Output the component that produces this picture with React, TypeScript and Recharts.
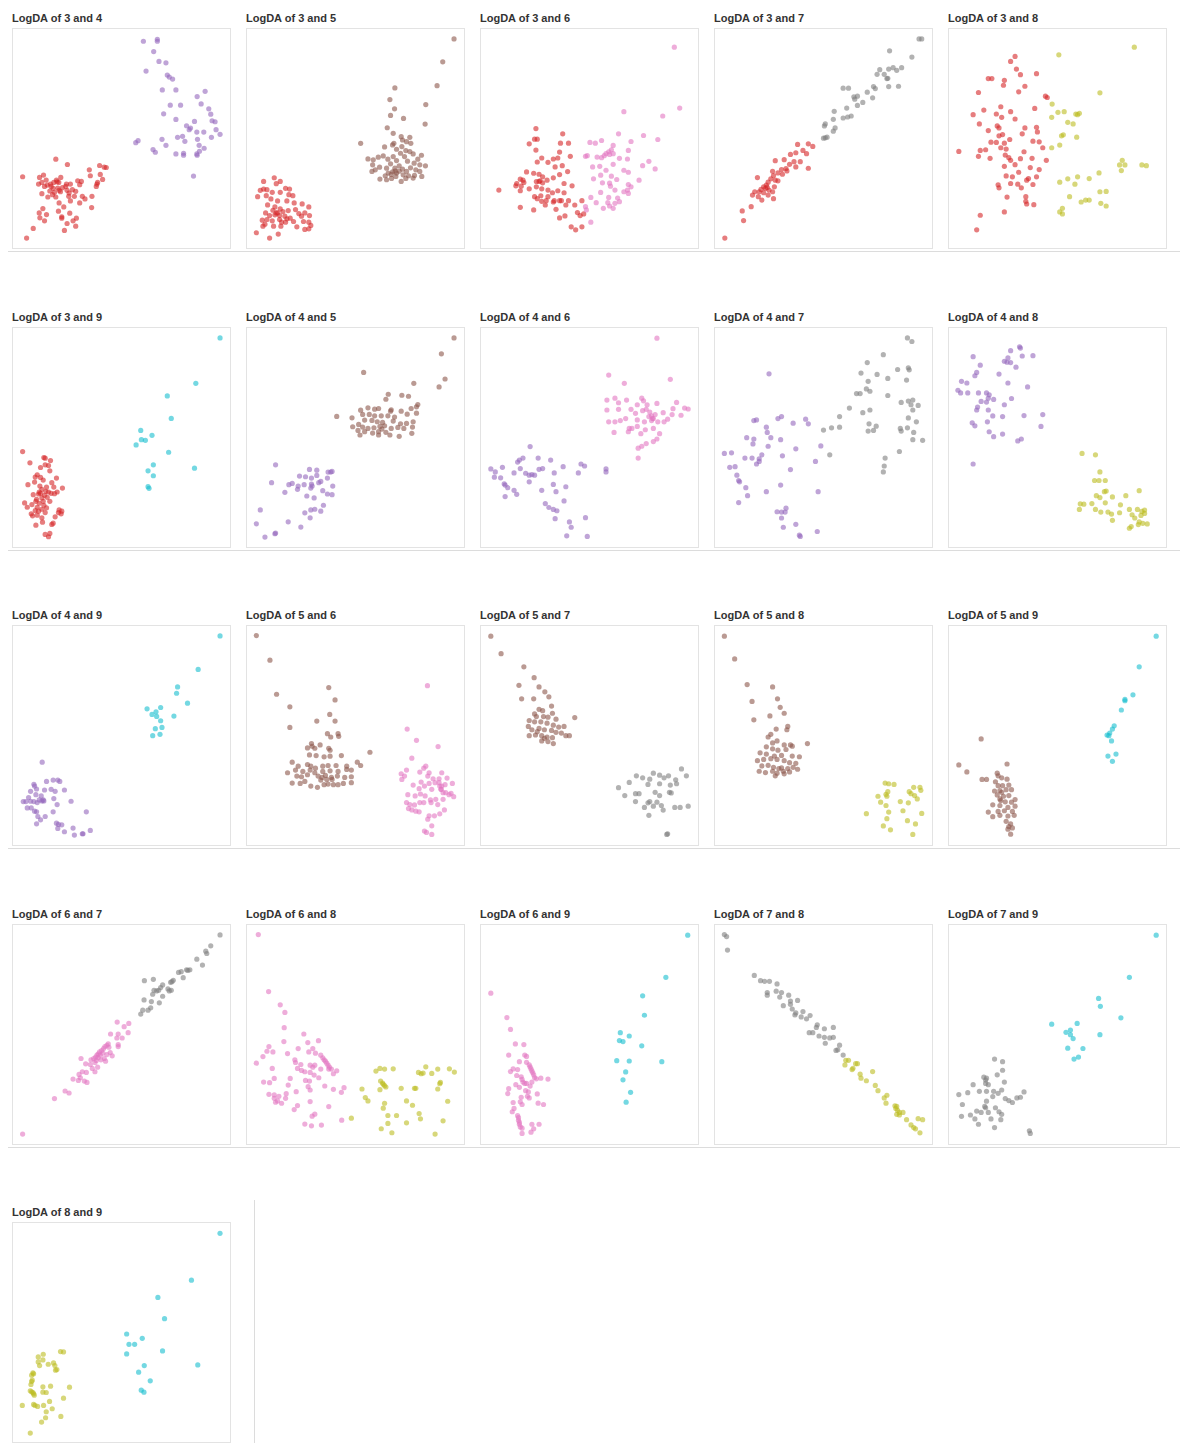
import { ScatterChart, Scatter, XAxis, YAxis } from 'recharts';

type Pt = [number, number];

const classColors: Record<number, string> = {
  3: '#d62728',
  4: '#9467bd',
  5: '#8c564b',
  6: '#e377c2',
  7: '#7f7f7f',
  8: '#bcbd22',
  9: '#17becf',
};

// values; each panel has its own axis range (y grows downward)
const p34_3: Pt[] = [[166,478],[201,494],[66,531],[298,497],[312,502],[318,503],[267,510],[300,524],[307,539],[270,528],[129,526],[117,533],[137,541],[168,541],[181,533],[114,553],[124,548],[150,553],[160,548],[175,548],[198,553],[210,553],[232,543],[243,545],[238,555],[290,553],[288,560],[292,548],[158,566],[172,565],[186,564],[148,574],[162,578],[180,576],[200,572],[216,570],[226,575],[124,582],[142,592],[166,592],[205,590],[222,590],[246,590],[254,598],[275,590],[176,610],[210,604],[238,610],[190,622],[127,627],[274,624],[116,640],[138,645],[174,635],[208,641],[184,652],[118,655],[132,664],[184,656],[218,664],[228,656],[200,672],[226,680],[192,693],[98,687],[78,716],[152,560],[140,556],[176,572],[196,560],[206,580],[156,585],[170,546],[132,560]];
const p34_4: Pt[] = [[430,122],[472,116],[472,122],[461,153],[477,183],[498,187],[438,212],[502,224],[508,230],[518,236],[487,269],[528,269],[616,273],[592,289],[511,315],[542,315],[604,311],[627,326],[633,342],[491,341],[528,358],[584,364],[637,362],[646,365],[560,377],[572,384],[568,389],[649,389],[661,403],[591,396],[612,396],[548,409],[533,412],[593,418],[635,412],[555,424],[486,418],[414,422],[407,428],[498,436],[598,436],[613,445],[459,449],[466,457],[528,462],[551,460],[551,466],[591,462],[592,466],[599,454],[581,529]];

const p35_3: Pt[] = [[102,534],[70,545],[120,545],[108,552],[60,572],[70,568],[80,570],[136,566],[148,568],[52,591],[78,588],[96,578],[120,578],[146,585],[158,588],[92,598],[112,604],[140,604],[162,610],[186,613],[206,622],[82,616],[104,622],[120,628],[98,632],[112,640],[128,636],[144,633],[166,630],[176,642],[194,640],[208,648],[76,640],[88,648],[104,646],[134,650],[150,656],[184,650],[66,662],[80,660],[96,664],[118,660],[136,668],[160,666],[190,666],[206,668],[74,674],[68,680],[100,680],[122,680],[170,682],[212,678],[194,690],[206,688],[48,700],[88,716],[114,704],[108,640],[118,648],[140,658],[124,668]];
const p35_5: Pt[] = [[643,115],[609,184],[465,263],[592,256],[450,298],[558,313],[464,326],[452,346],[491,355],[556,372],[442,383],[460,400],[484,410],[362,430],[434,441],[458,435],[462,430],[488,420],[510,412],[500,425],[513,430],[486,440],[470,448],[482,460],[498,452],[510,455],[494,470],[520,462],[545,466],[534,478],[384,477],[400,480],[415,472],[430,468],[444,478],[460,470],[470,482],[503,484],[523,490],[540,495],[557,498],[398,495],[406,510],[396,515],[419,502],[440,505],[452,492],[465,505],[478,498],[488,508],[500,515],[512,504],[528,510],[540,515],[546,530],[520,535],[506,528],[490,525],[470,520],[458,516],[445,520],[436,528],[420,538],[440,540],[455,536],[468,530],[484,545],[498,536],[524,527],[466,514],[478,514],[454,524]];

const p36_3: Pt[] = [[133,314],[193,330],[130,346],[136,346],[118,360],[188,358],[206,358],[133,379],[186,385],[210,398],[172,406],[182,403],[146,403],[136,415],[160,416],[176,430],[192,426],[204,444],[112,445],[128,449],[140,452],[148,460],[172,463],[186,453],[98,467],[104,470],[90,480],[88,487],[106,477],[134,474],[142,472],[148,478],[158,470],[196,480],[214,487],[50,500],[98,502],[118,496],[134,490],[146,496],[160,500],[170,508],[182,502],[196,508],[130,520],[144,517],[160,520],[174,532],[190,532],[206,532],[136,526],[172,536],[236,532],[146,534],[154,545],[200,545],[220,545],[98,552],[128,560],[178,558],[226,568],[240,572],[186,584],[198,578],[232,577],[212,611],[222,620],[236,611],[156,532],[186,532],[140,474],[100,488]];
const p36_6: Pt[] = [[443,68],[455,252],[330,263],[417,276],[318,330],[374,335],[406,347],[346,353],[254,356],[266,358],[280,350],[306,365],[302,378],[296,384],[290,390],[286,396],[280,402],[270,400],[298,392],[244,398],[248,396],[340,380],[306,390],[320,404],[338,406],[386,413],[372,426],[400,436],[260,430],[276,428],[290,440],[306,422],[278,455],[302,458],[330,440],[340,446],[262,466],[314,468],[364,470],[282,478],[298,479],[300,488],[340,483],[346,490],[310,500],[330,505],[340,510],[338,500],[278,507],[256,522],[268,538],[296,522],[316,524],[298,548],[310,540],[306,555],[284,555],[244,550],[246,560],[256,597],[294,538],[320,535]];

const p37_3: Pt[] = [[740,360],[716,362],[750,368],[728,380],[712,387],[736,390],[700,392],[686,408],[666,411],[708,414],[722,414],[698,422],[712,430],[740,434],[690,435],[680,438],[660,443],[672,448],[662,456],[682,452],[692,442],[626,462],[656,466],[666,470],[650,476],[672,472],[646,485],[640,490],[664,490],[634,498],[652,500],[620,505],[640,508],[660,505],[615,515],[628,520],[650,515],[636,530],[662,526],[612,550],[592,563],[595,592],[553,645],[644,495],[630,505],[648,492]];
const p37_7: Pt[] = [[988,43],[994,43],[922,79],[972,98],[949,130],[930,130],[938,138],[920,134],[900,136],[910,150],[894,150],[918,162],[916,163],[942,186],[920,187],[886,187],[890,193],[872,204],[884,221],[818,192],[830,192],[850,216],[842,218],[844,225],[862,235],[850,244],[826,252],[798,262],[836,276],[828,279],[818,282],[796,286],[778,300],[776,306],[800,312],[796,322],[778,342],[782,340],[774,343]];

const p38_3: Pt[] = [[1200,96],[1190,111],[1203,134],[1212,151],[1248,148],[1140,163],[1148,163],[1176,168],[1174,183],[1222,186],[1118,205],[1208,203],[1268,216],[1272,220],[1168,248],[1190,263],[1244,253],[1106,272],[1130,258],[1158,270],[1120,300],[1160,306],[1164,312],[1200,285],[1222,312],[1248,310],[1140,320],[1172,332],[1216,330],[1250,324],[1164,336],[1188,347],[1146,355],[1158,356],[1176,358],[1240,352],[1254,354],[1262,372],[1134,378],[1122,380],[1168,372],[1180,376],[1220,384],[1074,383],[1118,398],[1144,404],[1178,394],[1186,402],[1190,410],[1212,405],[1238,404],[1270,410],[1176,428],[1200,423],[1208,446],[1234,432],[1254,438],[1180,457],[1194,460],[1230,465],[1248,460],[1162,484],[1164,493],[1190,480],[1206,482],[1214,493],[1240,483],[1226,470],[1182,521],[1224,520],[1224,534],[1242,544],[1226,542],[1176,566],[1122,576],[1114,620],[1170,280]];
const p38_8: Pt[] = [[1467,68],[1298,91],[1390,206],[1283,240],[1296,265],[1310,263],[1282,280],[1336,270],[1340,272],[1344,268],[1318,295],[1330,300],[1308,333],[1304,336],[1300,364],[1282,372],[1338,340],[1440,410],[1434,424],[1446,424],[1438,441],[1484,424],[1494,426],[1388,448],[1366,465],[1318,466],[1300,476],[1340,460],[1334,482],[1390,505],[1404,504],[1322,520],[1348,536],[1358,530],[1366,530],[1392,540],[1404,548],[1306,555],[1300,566],[1306,572]];

const p39_3: Pt[] = [[42,390],[106,408],[110,410],[126,417],[64,424],[110,430],[120,432],[96,438],[124,448],[86,460],[80,467],[96,468],[144,470],[104,476],[78,482],[58,490],[94,494],[114,497],[130,484],[136,497],[162,500],[100,504],[112,510],[120,512],[96,516],[128,516],[146,512],[74,520],[90,518],[108,522],[138,517],[84,534],[100,530],[116,528],[124,540],[48,545],[70,550],[92,546],[106,552],[86,558],[100,564],[56,558],[80,568],[90,570],[114,560],[152,566],[160,570],[150,574],[68,578],[86,582],[72,584],[110,574],[158,578],[140,587],[100,590],[102,603],[82,612],[130,610],[134,606],[110,640],[120,647],[124,637],[92,512],[104,540],[82,540]];
const p39_9: Pt[] = [[637,47],[564,184],[478,222],[490,290],[398,326],[400,354],[412,356],[432,341],[384,370],[482,392],[436,430],[420,448],[436,463],[560,440],[420,496],[423,501]];

const p45_4: Pt[] = [[802,430],[904,444],[926,446],[960,452],[968,452],[972,450],[874,464],[892,466],[910,470],[926,462],[958,470],[790,484],[842,490],[852,486],[870,494],[888,490],[910,488],[912,494],[938,480],[932,484],[974,494],[830,513],[868,504],[908,500],[944,508],[958,518],[972,520],[896,524],[918,530],[946,552],[908,566],[920,564],[938,570],[890,575],[756,566],[906,590],[840,602],[744,608],[878,618],[802,636],[800,638],[770,648]];
const p45_5: Pt[] = [[1339,47],[1301,95],[1067,151],[1312,171],[1218,184],[1294,195],[1141,217],[1182,220],[1202,223],[1134,232],[1230,248],[1226,255],[1210,260],[1058,265],[1080,258],[1100,262],[1112,260],[1150,264],[1148,268],[1180,268],[1198,277],[1226,274],[986,284],[1032,288],[1064,278],[1084,278],[1100,282],[1120,282],[1140,282],[1160,286],[1070,295],[1092,296],[1108,300],[1124,302],[1156,298],[1178,306],[1196,305],[1216,300],[1052,308],[1034,315],[1064,316],[1080,320],[1098,318],[1116,314],[1130,312],[1150,320],[1170,317],[1188,320],[1214,316],[1050,326],[1070,330],[1094,334],[1112,330],[1134,332],[1146,340],[1174,344],[1212,335],[1056,340],[1112,340],[1122,322]];

const p46_4: Pt[] = [[120,375],[104,410],[96,416],[138,410],[166,416],[92,422],[58,438],[32,443],[42,452],[98,442],[140,444],[148,442],[194,436],[234,428],[242,434],[290,443],[290,452],[84,455],[110,456],[118,462],[124,460],[130,462],[174,455],[228,455],[40,468],[54,470],[118,482],[62,488],[64,492],[70,500],[172,490],[200,497],[84,508],[90,520],[146,508],[178,512],[64,527],[196,540],[154,548],[162,560],[172,566],[180,570],[176,594],[208,604],[244,591],[212,620],[202,646],[248,648]];
const p46_6: Pt[] = [[404,46],[296,158],[331,183],[434,171],[292,234],[310,228],[318,242],[336,234],[370,228],[374,236],[360,248],[382,248],[404,244],[448,241],[466,258],[474,261],[292,264],[318,262],[346,262],[356,274],[372,266],[380,262],[388,270],[392,282],[396,290],[400,278],[418,272],[440,260],[438,278],[458,280],[296,300],[310,300],[322,296],[334,290],[360,294],[376,300],[392,296],[406,300],[420,300],[428,292],[342,320],[348,320],[360,314],[378,324],[396,320],[410,336],[308,332],[340,330],[368,336],[404,352],[396,360],[380,366],[370,374],[362,380],[362,410],[394,290],[386,284]];

const p47_4: Pt[] = [[652,154],[618,296],[624,294],[672,290],[680,284],[706,304],[734,292],[740,306],[646,316],[648,332],[602,348],[618,352],[656,348],[678,354],[616,367],[650,374],[712,382],[768,373],[552,396],[568,394],[598,410],[614,410],[630,412],[636,400],[682,403],[624,428],[630,420],[700,445],[756,420],[564,438],[576,436],[580,462],[584,478],[586,482],[600,500],[678,492],[646,512],[762,512],[604,524],[584,545],[670,573],[680,574],[688,574],[690,562],[680,592],[684,620],[712,611],[720,644],[722,648],[760,633]];
const p47_7: Pt[] = [[962,45],[972,56],[908,96],[872,120],[940,141],[964,136],[966,142],[858,152],[894,156],[918,168],[960,173],[874,177],[870,200],[848,214],[856,214],[878,207],[918,220],[948,241],[964,237],[974,234],[970,248],[986,250],[974,264],[832,258],[862,272],[878,264],[964,288],[982,300],[810,284],[876,306],[892,313],[874,328],[886,326],[946,320],[962,318],[948,328],[976,332],[974,354],[996,356],[774,325],[792,318],[810,316],[788,400],[944,390],[912,410],[910,434],[908,452]];

const p48_4: Pt[] = [[1190,84],[1210,72],[1212,76],[1216,100],[1240,99],[1106,102],[1184,106],[1176,116],[1182,119],[1190,120],[1122,128],[1202,134],[1114,150],[1110,160],[1164,155],[1080,177],[1092,182],[1184,182],[1228,194],[1072,204],[1078,212],[1094,212],[1118,212],[1136,212],[1142,218],[1140,228],[1152,232],[1124,238],[1136,240],[1192,229],[1176,248],[1116,255],[1114,264],[1140,264],[1150,282],[1172,284],[1220,281],[1262,278],[1104,303],[1110,312],[1138,300],[1258,314],[1142,330],[1172,337],[1152,345],[1214,352],[1206,358],[1106,428]];
const p48_8: Pt[] = [[1350,396],[1380,400],[1390,452],[1378,478],[1388,478],[1402,478],[1400,512],[1404,510],[1382,524],[1390,530],[1402,546],[1372,548],[1418,528],[1448,524],[1478,509],[1346,549],[1354,550],[1344,566],[1380,566],[1392,574],[1408,574],[1436,552],[1456,566],[1434,576],[1416,580],[1462,582],[1474,566],[1484,572],[1490,568],[1490,578],[1468,592],[1478,604],[1486,608],[1496,610],[1476,612],[1460,618],[1456,623],[1418,599],[1482,584]];

const p49_4: Pt[] = [[101,428],[114,486],[134,482],[148,482],[154,486],[76,495],[78,500],[84,509],[66,516],[108,512],[128,510],[140,516],[168,512],[82,526],[98,530],[60,535],[92,542],[104,542],[136,538],[44,547],[52,547],[66,546],[76,547],[86,550],[100,545],[106,545],[188,546],[146,556],[56,566],[68,566],[78,576],[84,578],[134,578],[234,578],[88,592],[110,592],[96,602],[84,614],[144,612],[150,616],[160,617],[148,628],[194,627],[168,638],[246,634],[198,648],[222,644],[224,644]];
const p49_9: Pt[] = [[637,47],[571,148],[509,201],[506,220],[539,250],[458,263],[417,267],[444,276],[432,284],[446,290],[498,289],[458,303],[462,323],[442,327],[434,348],[456,344]];

const p56_5: Pt[] = [[744,46],[785,120],[805,223],[962,203],[981,240],[845,261],[965,284],[845,323],[926,304],[981,304],[958,342],[968,352],[990,342],[992,350],[910,372],[912,380],[898,385],[920,386],[936,376],[962,386],[966,392],[1086,398],[904,406],[924,408],[948,412],[966,410],[1000,408],[1048,428],[852,428],[870,440],[898,435],[908,440],[922,446],[944,440],[960,438],[984,438],[1016,440],[1058,438],[838,460],[862,452],[884,456],[906,452],[920,460],[944,456],[966,454],[990,456],[1016,450],[1030,452],[866,470],[880,472],[898,466],[930,470],[942,474],[952,468],[970,474],[988,470],[1010,474],[1030,472],[852,491],[876,492],[890,486],[908,500],[928,504],[948,496],[960,494],[976,496],[990,496],[1006,492],[1030,490],[938,482],[956,480],[972,480]];
const p56_6: Pt[] = [[1259,197],[1198,328],[1226,362],[1291,381],[1212,416],[1254,440],[1248,446],[1196,452],[1236,458],[1264,460],[1302,460],[1180,463],[1182,480],[1260,470],[1276,478],[1294,478],[1318,476],[1190,470],[1240,488],[1264,492],[1282,490],[1294,490],[1302,500],[1312,496],[1334,492],[1216,497],[1234,508],[1250,500],[1272,510],[1300,510],[1306,520],[1314,520],[1324,526],[1338,532],[1330,522],[1200,526],[1222,530],[1238,524],[1252,530],[1268,542],[1284,540],[1306,540],[1196,550],[1206,556],[1220,557],[1236,550],[1248,550],[1270,550],[1290,556],[1202,568],[1212,572],[1224,576],[1234,578],[1310,572],[1264,590],[1280,590],[1296,584],[1260,600],[1272,620],[1250,636],[1256,640],[1272,646],[1300,510],[1296,500]];

const p57_5: Pt[] = [[32,46],[55,99],[106,139],[129,172],[95,195],[140,200],[153,215],[101,236],[128,236],[162,230],[168,258],[220,293],[140,268],[148,272],[130,282],[134,290],[150,290],[160,292],[170,280],[178,298],[118,302],[130,306],[144,306],[158,310],[172,316],[184,322],[196,320],[116,320],[124,330],[140,326],[152,330],[168,332],[178,338],[190,340],[200,348],[208,348],[118,348],[132,346],[146,348],[158,352],[170,354],[146,364],[160,366],[172,372],[152,356],[136,336]];
const p57_7: Pt[] = [[459,449],[470,470],[358,470],[372,476],[388,480],[396,462],[410,468],[430,470],[446,482],[420,476],[434,498],[410,494],[448,494],[342,490],[384,496],[318,506],[332,530],[356,524],[364,524],[400,520],[410,530],[432,520],[436,522],[356,548],[384,552],[388,548],[404,550],[418,574],[444,566],[456,566],[474,562],[376,566],[396,562],[414,560],[386,590],[428,646],[426,648]];

const p58_5: Pt[] = [[552,46],[575,115],[603,193],[660,200],[614,244],[671,236],[677,262],[686,280],[654,288],[618,300],[694,320],[692,330],[668,328],[650,352],[656,344],[670,364],[660,370],[686,376],[700,376],[738,372],[646,382],[660,388],[672,392],[690,390],[704,380],[632,400],[646,404],[664,410],[680,408],[704,410],[720,412],[626,424],[640,420],[656,418],[670,420],[686,424],[698,430],[712,432],[636,440],[650,438],[662,444],[680,446],[694,448],[706,444],[716,450],[630,456],[644,460],[660,456],[670,462],[684,456],[698,458],[666,470],[686,464],[674,448]];
const p58_8: Pt[] = [[912,492],[932,496],[920,494],[976,505],[990,505],[966,518],[992,514],[914,526],[916,532],[896,532],[978,530],[984,540],[964,552],[946,548],[902,550],[914,560],[870,585],[920,580],[952,576],[994,584],[916,600],[962,606],[980,616],[908,622],[924,634],[974,648],[970,524],[918,518]];

const p59_5: Pt[] = [[1124,358],[1074,437],[1092,458],[1182,434],[1126,481],[1136,481],[1160,462],[1162,470],[1156,488],[1170,476],[1182,480],[1162,500],[1172,500],[1186,498],[1154,516],[1166,515],[1180,512],[1192,512],[1160,528],[1174,532],[1186,530],[1200,542],[1168,545],[1178,549],[1192,550],[1150,558],[1166,560],[1184,566],[1200,562],[1162,578],[1176,576],[1194,578],[1140,580],[1150,594],[1166,590],[1184,592],[1198,590],[1180,608],[1190,616],[1186,624],[1184,632],[1194,628],[1190,647],[1170,520],[1166,540]];
const p59_9: Pt[] = [[1516,46],[1478,139],[1464,224],[1446,238],[1446,242],[1438,270],[1422,318],[1418,328],[1412,340],[1406,346],[1410,348],[1416,364],[1408,410],[1426,404],[1418,426]];

const p67_6: Pt[] = [[327,310],[362,314],[348,324],[330,346],[307,346],[360,342],[342,358],[326,358],[300,376],[296,380],[290,384],[286,390],[280,396],[274,400],[270,406],[266,410],[262,416],[256,420],[302,386],[306,402],[312,412],[296,408],[288,420],[278,424],[292,428],[330,384],[330,378],[218,420],[248,424],[260,432],[232,436],[246,438],[268,446],[252,450],[260,460],[222,460],[212,468],[216,478],[234,462],[210,486],[228,488],[236,492],[194,482],[170,518],[182,524],[138,541],[42,648],[276,410],[284,404],[270,418],[264,426]];
const p67_7: Pt[] = [[637,47],[609,80],[594,96],[597,103],[567,120],[584,138],[546,152],[540,154],[536,152],[520,158],[512,160],[526,176],[496,184],[492,188],[488,190],[436,181],[409,185],[464,198],[458,206],[452,214],[480,210],[490,214],[446,216],[438,214],[434,226],[464,232],[484,216],[408,243],[430,248],[454,252],[428,267],[420,274],[404,274],[398,286]];

const p68_6: Pt[] = [[750,46],[781,218],[816,258],[830,281],[828,327],[827,369],[887,346],[931,366],[899,372],[782,384],[776,398],[794,400],[870,390],[914,390],[902,400],[922,404],[938,410],[944,418],[948,424],[952,428],[956,434],[960,440],[964,446],[962,452],[970,452],[986,457],[764,414],[838,405],[744,434],[860,424],[878,438],[862,432],[906,440],[914,446],[880,456],[890,460],[920,440],[938,452],[792,450],[868,450],[906,462],[976,466],[798,480],[846,480],[892,486],[904,488],[932,478],[918,470],[766,491],[784,493],[840,500],[950,503],[900,505],[906,515],[976,513],[1008,508],[1000,522],[782,528],[798,530],[812,534],[834,526],[864,520],[798,540],[808,548],[820,555],[802,552],[832,540],[906,550],[962,565],[868,562],[858,574],[920,588],[912,594],[1001,606],[890,618],[910,623],[940,621]];
const p68_8: Pt[] = [[1104,458],[1116,450],[1130,452],[1156,451],[1254,445],[1232,462],[1246,464],[1240,466],[1272,465],[1290,452],[1325,451],[1340,461],[1118,488],[1124,494],[1126,498],[1130,502],[1134,506],[1116,514],[1062,512],[1180,510],[1220,510],[1224,510],[1298,492],[1296,496],[1290,512],[1072,538],[1080,548],[1196,548],[1214,561],[1130,555],[1126,570],[1320,549],[1030,600],[1140,592],[1166,592],[1234,586],[1196,614],[1238,602],[1306,608],[1120,632],[1140,616],[1152,644],[1282,648]];

const p69_6: Pt[] = [[32,222],[68,296],[76,332],[87,376],[106,378],[72,410],[108,410],[112,414],[96,430],[112,432],[118,440],[120,446],[122,452],[124,458],[126,464],[128,470],[130,478],[134,482],[76,460],[82,452],[92,454],[90,472],[100,476],[102,484],[104,492],[108,496],[144,480],[160,483],[88,500],[112,496],[120,504],[124,492],[72,512],[96,508],[110,518],[116,522],[136,528],[70,527],[100,538],[114,535],[118,540],[82,554],[98,552],[102,560],[138,556],[150,560],[80,582],[84,572],[92,594],[94,600],[94,608],[96,614],[96,620],[98,628],[102,632],[124,620],[128,634],[140,620],[122,644],[102,648]];
const p69_9: Pt[] = [[473,46],[424,174],[372,230],[376,289],[322,342],[342,352],[320,366],[328,369],[370,382],[314,427],[342,428],[415,430],[334,461],[328,485],[345,523],[335,553]];

const p78_7: Pt[] = [[552,44],[557,50],[559,91],[619,168],[633,184],[642,186],[653,186],[670,194],[648,220],[648,228],[668,216],[680,220],[676,234],[696,228],[700,246],[716,244],[684,260],[700,256],[704,270],[712,282],[728,278],[710,288],[724,294],[744,290],[736,300],[760,318],[758,326],[776,330],[796,326],[750,342],[742,342],[764,352],[776,356],[788,358],[796,356],[778,374],[810,380],[806,394],[802,396],[818,410]];
const p78_8: Pt[] = [[824,426],[830,426],[822,440],[846,436],[850,436],[840,450],[838,454],[856,468],[884,460],[858,480],[870,488],[890,502],[896,518],[916,532],[910,540],[914,556],[934,564],[938,566],[936,572],[940,578],[944,584],[944,592],[938,590],[952,584],[960,606],[986,603],[996,606],[970,622],[976,630],[980,634],[990,646]];

const p79_7: Pt[] = [[1154,422],[1172,430],[1172,456],[1130,477],[1136,480],[1134,486],[1134,496],[1160,470],[1176,492],[1106,500],[1140,500],[1170,516],[1094,524],[1074,530],[1120,520],[1136,520],[1152,520],[1162,526],[1220,522],[1150,536],[1178,542],[1186,548],[1194,554],[1204,540],[1212,538],[1082,560],[1136,550],[1132,566],[1134,570],[1156,570],[1114,580],[1124,584],[1140,584],[1164,582],[1170,590],[1080,596],[1100,592],[1110,604],[1146,604],[1168,606],[1118,620],[1154,630],[1232,640],[1234,648]];
const p79_9: Pt[] = [[1516,46],[1456,174],[1387,238],[1391,262],[1437,297],[1282,316],[1339,314],[1314,341],[1324,334],[1324,348],[1330,360],[1390,348],[1318,389],[1352,390],[1342,416],[1332,422]];

const p89_8: Pt[] = [[157,424],[166,425],[90,440],[105,432],[104,449],[90,455],[94,466],[120,462],[136,458],[140,466],[146,478],[142,480],[74,488],[76,491],[70,495],[72,510],[70,514],[68,523],[104,530],[127,528],[184,531],[66,542],[70,545],[74,547],[76,551],[78,555],[104,546],[114,547],[166,564],[124,574],[42,586],[76,583],[80,586],[88,589],[106,586],[132,596],[114,605],[112,623],[158,619],[100,636],[66,669]];
const p89_9: Pt[] = [[637,68],[551,209],[450,261],[470,325],[356,371],[403,384],[363,402],[380,402],[356,431],[464,422],[409,466],[392,486],[570,464],[427,512],[400,540],[408,546]];

interface Panel {
  a: number;
  b: number;
  ptsA: Pt[];
  ptsB: Pt[];
  xRange: [number, number];
  yRange: [number, number];
}

const panels: Panel[] = [
  { a: 3, b: 4, ptsA: p34_3, ptsB: p34_4, xRange: [37, 691], yRange: [85, 746] },
  { a: 3, b: 5, ptsA: p35_3, ptsB: p35_5, xRange: [20, 673], yRange: [85, 746] },
  { a: 3, b: 6, ptsA: p36_3, ptsB: p36_6, xRange: [10, 496], yRange: [13, 675] },
  { a: 3, b: 7, ptsA: p37_3, ptsB: p37_7, xRange: [531, 1017], yRange: [13, 675] },
  { a: 3, b: 8, ptsA: p38_3, ptsB: p38_8, xRange: [1052, 1538], yRange: [13, 675] },
  { a: 3, b: 9, ptsA: p39_3, ptsB: p39_9, xRange: [13, 667], yRange: [17, 678] },
  { a: 4, b: 5, ptsA: p45_4, ptsB: p45_5, xRange: [716, 1369], yRange: [17, 678] },
  { a: 4, b: 6, ptsA: p46_4, ptsB: p46_6, xRange: [10, 496], yRange: [15, 680] },
  { a: 4, b: 7, ptsA: p47_4, ptsB: p47_7, xRange: [531, 1017], yRange: [15, 680] },
  { a: 4, b: 8, ptsA: p48_4, ptsB: p48_8, xRange: [1052, 1538], yRange: [15, 680] },
  { a: 4, b: 9, ptsA: p49_4, ptsB: p49_9, xRange: [13, 667], yRange: [17, 678] },
  { a: 5, b: 6, ptsA: p56_5, ptsB: p56_6, xRange: [716, 1369], yRange: [17, 678] },
  { a: 5, b: 7, ptsA: p57_5, ptsB: p57_7, xRange: [10, 496], yRange: [15, 680] },
  { a: 5, b: 8, ptsA: p58_5, ptsB: p58_8, xRange: [531, 1017], yRange: [15, 680] },
  { a: 5, b: 9, ptsA: p59_5, ptsB: p59_9, xRange: [1052, 1538], yRange: [15, 680] },
  { a: 6, b: 7, ptsA: p67_6, ptsB: p67_7, xRange: [13, 667], yRange: [17, 678] },
  { a: 6, b: 8, ptsA: p68_6, ptsB: p68_8, xRange: [716, 1369], yRange: [17, 678] },
  { a: 6, b: 9, ptsA: p69_6, ptsB: p69_9, xRange: [10, 496], yRange: [15, 680] },
  { a: 7, b: 8, ptsA: p78_7, ptsB: p78_8, xRange: [531, 1017], yRange: [15, 680] },
  { a: 7, b: 9, ptsA: p79_7, ptsB: p79_9, xRange: [1052, 1538], yRange: [15, 680] },
  { a: 8, b: 9, ptsA: p89_8, ptsB: p89_9, xRange: [14, 667], yRange: [37, 696] },
];

const BOX_W = 219;
const BOX_H = 221;
const rowTops = [28, 327, 625, 924, 1222];
const ruleTops = [251, 550, 848, 1147];

const toRows = (pts: Pt[]) => pts.map(([x, y]) => ({ x, y }));

const makeDot = (color: string) => (props: any) => (
  <circle cx={props.cx} cy={props.cy} r={2.6} fill={color} fillOpacity={0.6} />
);

function PairPanel({ p, left, top }: { p: Panel; left: number; top: number }) {
  return (
    <div style={{ position: 'absolute', left, top: top - 16 }}>
      <div
        style={{
          fontFamily: '"Liberation Sans", Arial, sans-serif',
          fontWeight: 'bold',
          fontSize: 11,
          lineHeight: '13px',
          height: 16,
          color: '#333',
        }}
      >
        LogDA of {p.a} and {p.b}
      </div>
      <div style={{ width: BOX_W, height: BOX_H, border: '1px solid #e3e3e3', boxSizing: 'border-box' }}>
        <ScatterChart width={BOX_W - 2} height={BOX_H - 2} margin={{ top: 0, right: 0, bottom: 0, left: 0 }}>
          <XAxis type="number" dataKey="x" domain={p.xRange} allowDataOverflow hide />
          <YAxis type="number" dataKey="y" domain={p.yRange} allowDataOverflow reversed hide />
          <Scatter data={toRows(p.ptsA)} shape={makeDot(classColors[p.a])} isAnimationActive={false} />
          <Scatter data={toRows(p.ptsB)} shape={makeDot(classColors[p.b])} isAnimationActive={false} />
        </ScatterChart>
      </div>
    </div>
  );
}

export default function App() {
  return (
    <div style={{ position: 'absolute', left: 0, top: 0, width: 1180, height: 1443, background: '#fff', overflow: 'hidden' }}>
      {panels.map((p, i) => (
        <PairPanel key={i} p={p} left={12 + (i % 5) * 234} top={rowTops[Math.floor(i / 5)]} />
      ))}
      {ruleTops.map((t) => (
        <div key={t} style={{ position: 'absolute', left: 8, top: t, width: 1172, height: 1, background: '#dcdcdc' }} />
      ))}
      <div style={{ position: 'absolute', left: 254, top: 1200, width: 1, height: 243, background: '#dcdcdc' }} />
    </div>
  );
}
